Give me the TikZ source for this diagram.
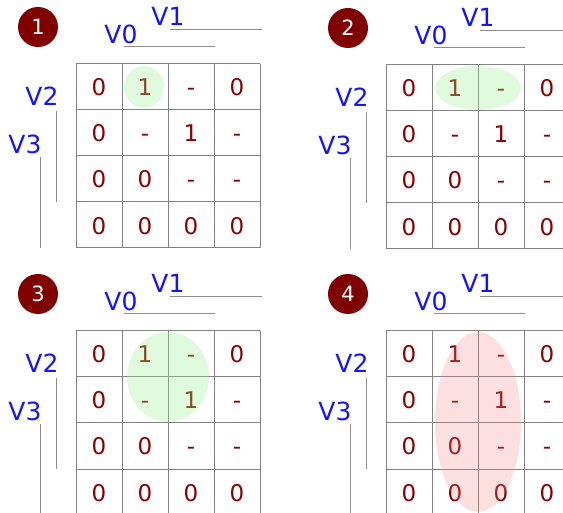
\documentclass[tikz,border=0pt]{standalone}
\usepackage{fontspec}
\setmainfont{DejaVu Sans}
\definecolor{digitred}{RGB}{140,0,0}
\definecolor{badgered}{RGB}{128,0,0}
\definecolor{lblblue}{RGB}{20,20,250}
\definecolor{gridgray}{RGB}{130,130,130}
\definecolor{bargray}{RGB}{140,140,140}
\definecolor{hlgreen}{RGB}{150,240,140}
\definecolor{hlred}{RGB}{245,130,130}
\tikzset{
  cellnum/.style={inner sep=0pt, text=digitred, font=\fontsize{23}{23}\selectfont, text height=16.8pt, text depth=0pt},
  lbl/.style={inner sep=0pt, text=lblblue, font=\fontsize{25}{25}\selectfont},
  badge/.style={circle, fill=badgered, text=white, minimum size=40pt, inner sep=0pt, font=\fontsize{21}{21}\selectfont},
  gridline/.style={draw=gridgray, line width=1pt},
  barline/.style={draw=bargray, line width=1pt},
  greenhl/.style={fill=hlgreen, fill opacity=0.3, draw=none},
  redhl/.style={fill=hlred, fill opacity=0.25, draw=none}
}
\newcommand\kpanel[4]{%
  \begin{scope}[shift={(#2,#3)}]
    \node[badge] (b#1) at (-38,-37) {#1};
    \node[lbl] (vone#1) at (92,-48) {V1};
    \draw[barline] (94,-34) -- (186,-34);
    \node[lbl] (vzero#1) at (45,-30) {V0};
    \draw[barline] (48,-17) -- (139,-17);
    \node[lbl] (vtwo#1) at (-34,32) {V2};
    \draw[barline] (-20,47) -- (-20,138);
    \node[lbl] (vthree#1) at (-51,80) {V3};
    \draw[barline] (-36,93) -- (-36,184);
    \foreach \k in {0,1,2,3,4} {
      \draw[gridline] (46*\k,0) -- (46*\k,184);
      \draw[gridline] (0,46*\k) -- (184,46*\k);
    }
    \foreach \rr [count=\ri from 0] in {{0,1,-,0},{0,-,1,-},{0,0,-,-},{0,0,0,0}} {
      \pgfmathsetmacro\yoff{\ri==3 ? 1.5 : 0}
      \foreach \cc [count=\ci from 0] in \rr {
        \node[cellnum] (p#1r\ri c\ci) at ({23+46*\ci}, {23+46*\ri+\yoff}) {\cc};
      }
    }
    #4
  \end{scope}}
\begin{document}
\begin{tikzpicture}[x=1pt,y=-1pt]
  \useasboundingbox (0,0) rectangle (563,513);
  \clip (0,0) rectangle (563,513);
  \kpanel{1}{76}{64}{\fill[greenhl] (68,23) ellipse [x radius=20, y radius=21];}
  \kpanel{2}{386}{65}{\fill[greenhl] (92,23) ellipse [x radius=43, y radius=22];}
  \kpanel{3}{76}{331}{\fill[greenhl] (92,46) ellipse [x radius=41, y radius=45];}
  \kpanel{4}{386}{331}{\fill[redhl] (92,91) ellipse [x radius=43, y radius=90];}
\end{tikzpicture}
\end{document}
